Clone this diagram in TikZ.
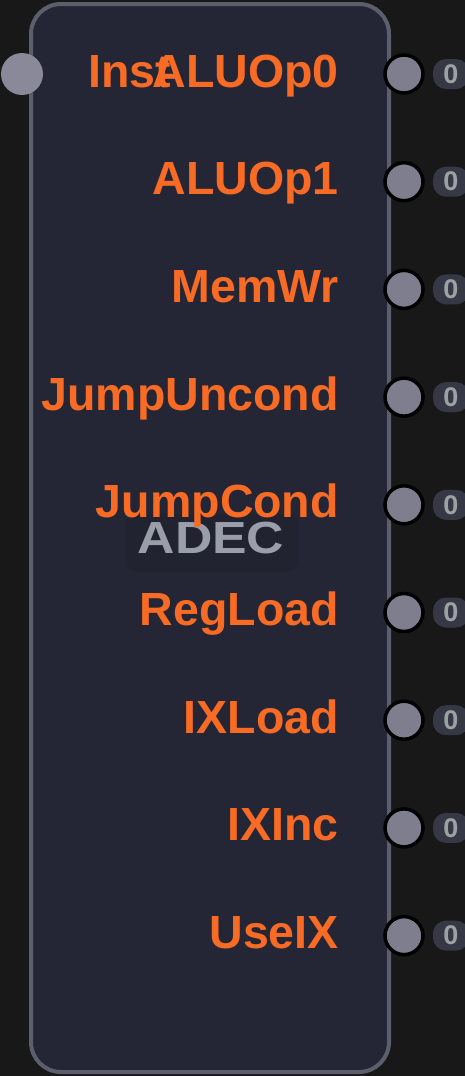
\documentclass[tikz,border=0pt]{standalone}
\usepackage{fontspec}
\setmainfont{Liberation Sans}
\definecolor{bgc}{HTML}{181818}
\definecolor{boxfill}{HTML}{242635}
\definecolor{boxline}{HTML}{5B5F6B}
\definecolor{lbl}{HTML}{F76B25}
\definecolor{portc}{HTML}{7F7E8E}
\definecolor{inportc}{HTML}{8A8999}
\definecolor{badgec}{HTML}{363945}
\definecolor{valc}{HTML}{9CA1A4}
\definecolor{titlec}{HTML}{9A9EA9}
\tikzset{
  outlbl/.style={anchor=base east, inner sep=0pt, text=lbl, font=\fontsize{46.5}{50}\selectfont\bfseries},
  inlbl/.style={anchor=base west, inner sep=0pt, text=lbl, font=\fontsize{46.5}{50}\selectfont\bfseries},
  outport/.style={circle, minimum size=38pt, inner sep=0pt, fill=portc, draw=black, line width=3.5pt},
  inport/.style={circle, minimum size=42pt, inner sep=0pt, fill=inportc},
  badge/.style={rounded corners=13pt, minimum width=36pt, minimum height=30pt, inner sep=0pt, fill=badgec, text=valc, font=\fontsize{27}{28}\selectfont\bfseries},
}
\begin{document}
\begin{tikzpicture}[x=1pt,y=-1pt]
\useasboundingbox (0,0) rectangle (465,1076);
\fill[bgc] (0,0) rectangle (465,1076);
\node[draw=boxline, fill=boxfill, line width=4pt, rounded corners=30pt, minimum width=358pt, minimum height=1068pt, inner sep=0pt] (box) at (210,538) {};
% title with faint shadow
\fill[black, opacity=0.07, rounded corners=10pt] (126,514) rectangle (298,572);
\node[anchor=base, inner sep=0pt, text=titlec, font=\fontsize{45}{48}\selectfont\bfseries] (title) at (211,553) {\scalebox{1.15}[1]{ADEC}};
% input port
\node[inport] (in) at (22,74) {};
\node[inlbl] (inlab) at (88,87) {Inst};
% outputs
\foreach \i/\name in {0/ALUOp0,1/ALUOp1,2/MemWr,3/JumpUncond,4/JumpCond,5/RegLoad,6/IXLoad,7/IXInc,8/UseIX}{
  \pgfmathsetmacro{\yy}{74+107.7*\i}
  \node[badge] (v\i) at (451,\yy) {0};
  \node[outport] (p\i) at (404,\yy) {};
  \node[outlbl] (l\i) at (339,\yy+13) {\name};
}
\end{tikzpicture}
\end{document}
